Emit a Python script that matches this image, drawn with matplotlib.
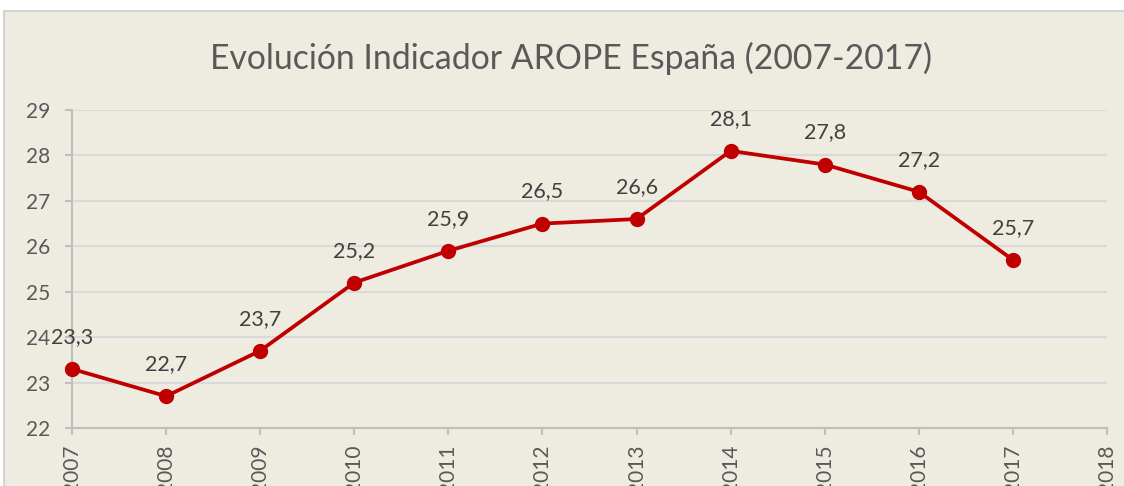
import matplotlib
matplotlib.use("Agg")
import matplotlib.pyplot as plt
from matplotlib.patches import Rectangle

years = [2007, 2008, 2009, 2010, 2011, 2012, 2013, 2014, 2015, 2016, 2017]
arope = [23.3, 22.7, 23.7, 25.2, 25.9, 26.5, 26.6, 28.1, 27.8, 27.2, 25.7]
labels = ["23,3", "22,7", "23,7", "25,2", "25,9", "26,5", "26,6", "28,1", "27,8", "27,2", "25,7"]
xticks = list(range(2007, 2019))
yticks = list(range(22, 30))
title = "Evolución Indicador AROPE España (2007-2017)"

plt.rcParams['font.family'] = ['Lato', 'DejaVu Sans']

W, H = 1124, 486
fig = plt.figure(figsize=(W / 100, H / 100), dpi=100)
fig.patch.set_facecolor("white")
bg = "#EEEBE0"
fig.patches.append(Rectangle((4 / W, -0.05), 1.2, 1 - 11 / H + 0.05, transform=fig.transFigure,
                             facecolor=bg, edgecolor="#D4D4D4", linewidth=1.5, zorder=-5))

ax = fig.add_axes([72 / W, 1 - 428 / H, (1107 - 72) / W, (428 - 110) / H])
ax.set_zorder(2)
ax.set_facecolor("none")
ax.plot(years, arope, color="#C00000", linewidth=2.7, marker="o", markersize=10, zorder=3, clip_on=False)
for x, y, lab in zip(years, arope, labels):
    ax.annotate(lab, (x, y), xytext=(0, 22), textcoords="offset pixels", ha="center", va="bottom",
                fontsize=15.5, color="#404040")

ax.set_xlim(2007, 2018)
ax.set_ylim(22, 29)
ax.set_xticks(xticks)
ax.set_xticklabels([str(t) for t in xticks], rotation=90, va="top")
ax.set_yticks(yticks)
ax.grid(axis="y", color="#D9D9D9", linewidth=1.5)
ax.set_axisbelow(True)
for s in ["top", "right"]:
    ax.spines[s].set_visible(False)
for s in ["left", "bottom"]:
    ax.spines[s].set_color("#BFBFBF")
    ax.spines[s].set_linewidth(1.5)
ax.tick_params(axis="both", colors="#BFBFBF", length=5, width=1.5, labelsize=15, labelcolor="#595959")
ax.tick_params(axis="y", pad=11)
ax.tick_params(axis="x", pad=7)

fig.text((213 + 930) / 2 / W, 1 - 58 / H, title, ha="center", va="center", fontsize=24.3,
         color="#595959", zorder=3)

fig.savefig("out.png", dpi=100, facecolor="white")
